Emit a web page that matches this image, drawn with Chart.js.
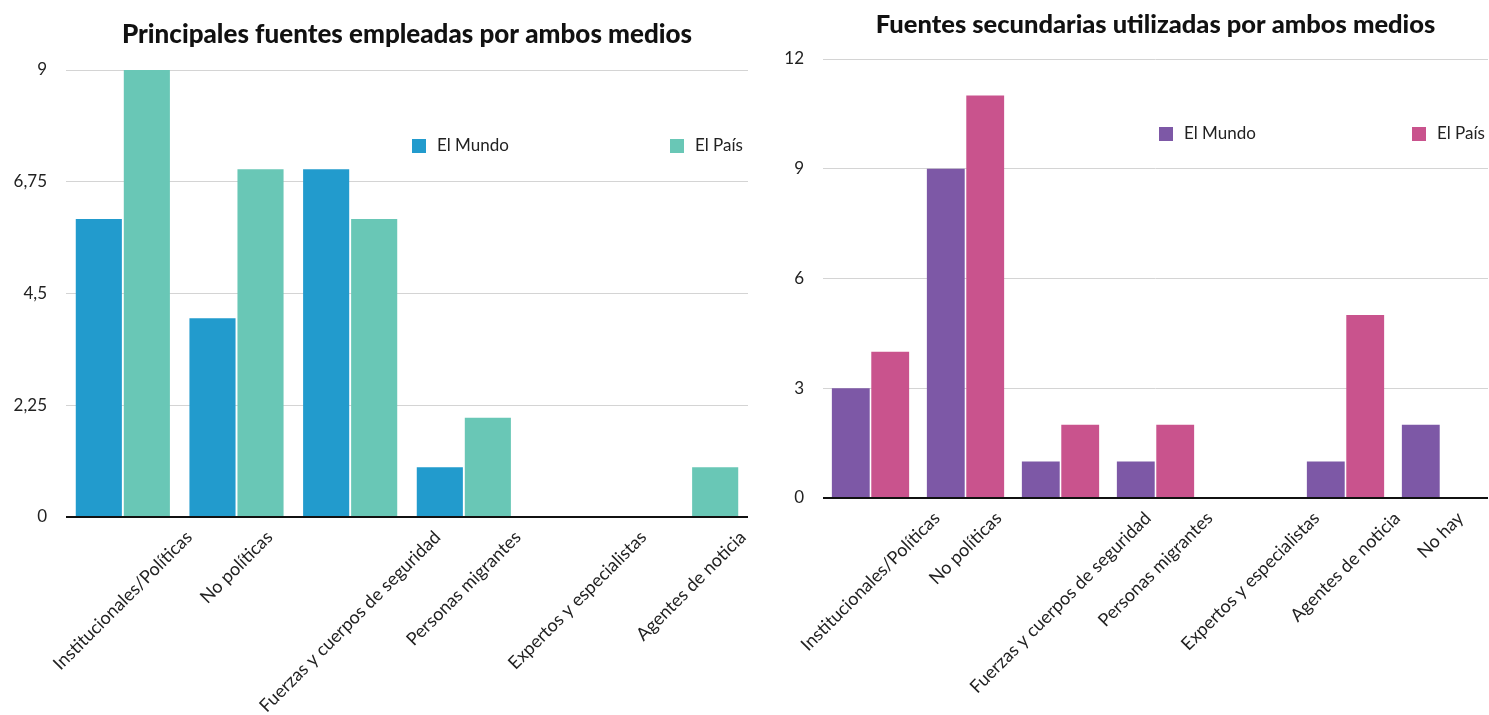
<!DOCTYPE html>
<html>
<head>
<meta charset="utf-8">
<script src="https://cdn.jsdelivr.net/npm/chart.js@4.4.1/dist/chart.umd.min.js"></script>
<style>
  body { margin: 0; background: #fff; }
  .box { position: absolute; top: 0; height: 715px; }
  #left { left: 0; width: 762px; }
  #right { left: 762px; width: 727px; }
</style>
</head>
<body>
<div class="box" id="left"><canvas id="chartLeft"></canvas></div>
<div class="box" id="right"><canvas id="chartRight"></canvas></div>
<script>
const seriesNames = ["El Mundo", "El País"];

const principalCategories = [
  "Institucionales/Políticas",
  "No políticas",
  "Fuerzas y cuerpos de seguridad",
  "Personas migrantes",
  "Expertos y especialistas",
  "Agentes de noticia"
];
const principalMundo = [6, 4, 7, 1, 0, 0];
const principalPais = [9, 7, 6, 2, 0, 1];
const principalTicks = ["0", "2,25", "4,5", "6,75", "9"];

const secundariaCategories = [
  "Institucionales/Políticas",
  "No políticas",
  "Fuerzas y cuerpos de seguridad",
  "Personas migrantes",
  "Expertos y especialistas",
  "Agentes de noticia",
  "No hay"
];
const secundariaMundo = [3, 9, 1, 1, 0, 1, 2];
const secundariaPais = [4, 11, 2, 2, 0, 5, 0];
const secundariaTicks = ["0", "3", "6", "9", "12"];

const FONT = "Lato, 'Open Sans', sans-serif";

// title centred over the plot area, not the whole canvas
const plotTitle = {
  id: "plotTitle",
  afterDraw(chart, args, opts) {
    const { ctx, chartArea } = chart;
    ctx.save();
    ctx.font = "900 " + opts.size + "px " + FONT;
    ctx.fillStyle = "#111";
    ctx.textAlign = "center";
    ctx.textBaseline = "middle";
    ctx.fillText(opts.text, (chartArea.left + chartArea.right) / 2, opts.y);
    ctx.restore();
  }
};

// rotated category labels, centred under each category
const slantLabels = {
  id: "slantLabels",
  afterDraw(chart, args, opts) {
    const { ctx, chartArea } = chart;
    const xScale = chart.scales.x;
    ctx.save();
    ctx.font = "18px " + FONT;
    ctx.fillStyle = "#222";
    ctx.textAlign = "center";
    ctx.textBaseline = "middle";
    chart.data.labels.forEach((label, i) => {
      const w = ctx.measureText(label).width;
      const cx = xScale.getPixelForValue(i);
      const cy = chartArea.bottom + opts.gap + (w + 12) * Math.SQRT1_2 / 2;
      ctx.save();
      ctx.translate(cx, cy);
      ctx.rotate(-Math.PI / 4);
      ctx.fillText(label, 0, 0);
      ctx.restore();
    });
    ctx.restore();
  }
};

// legend drawn inside the plot area
const insideLegend = {
  id: "insideLegend",
  afterDraw(chart, args, opts) {
    const { ctx, chartArea } = chart;
    ctx.save();
    ctx.font = "17px " + FONT;
    ctx.textBaseline = "middle";
    ctx.textAlign = "left";
    chart.data.datasets.forEach((ds, i) => {
      const bx = chartArea.right - opts.offsets[i];
      const y = chartArea.top + opts.y;
      ctx.fillStyle = ds.backgroundColor;
      ctx.fillRect(bx, y - 7, 14, 14);
      ctx.fillStyle = "#222";
      ctx.fillText(ds.label, bx + 25, y);
    });
    ctx.restore();
  }
};

function makeChart(id, opts) {
  return new Chart(document.getElementById(id), {
    type: "bar",
    data: {
      labels: opts.labels,
      datasets: [
        {
          label: seriesNames[0],
          data: opts.mundo,
          backgroundColor: opts.colors[0],
          categoryPercentage: opts.catPct,
          barPercentage: 0.96
        },
        {
          label: seriesNames[1],
          data: opts.pais,
          backgroundColor: opts.colors[1],
          categoryPercentage: opts.catPct,
          barPercentage: 0.96
        }
      ]
    },
    options: {
      responsive: true,
      maintainAspectRatio: false,
      animation: false,
      layout: { padding: opts.padding },
      scales: {
        x: { display: false },
        y: {
          min: 0,
          max: opts.max,
          afterFit: (scale) => { scale.width = opts.axisWidth; },
          ticks: {
            stepSize: opts.step,
            padding: 19,
            color: "#222",
            font: { family: FONT, size: 17 },
            callback: (value, index) => opts.ticks[index]
          },
          border: { display: false },
          grid: {
            drawTicks: false,
            color: (c) => (c.tick && c.tick.value === 0 ? "#111" : "#d4d4d4"),
            lineWidth: (c) => (c.tick && c.tick.value === 0 ? 2 : 1)
          }
        }
      },
      plugins: {
        legend: { display: false },
        tooltip: { enabled: false },
        plotTitle: { text: opts.title, y: opts.titleY, size: opts.titleSize },
        slantLabels: { gap: 13 },
        insideLegend: { offsets: opts.legendOffsets, y: opts.legendY }
      }
    },
    plugins: [plotTitle, slantLabels, insideLegend]
  });
}

makeChart("chartLeft", {
  labels: principalCategories,
  mundo: principalMundo,
  pais: principalPais,
  ticks: principalTicks,
  max: 9,
  step: 2.25,
  colors: ["#229bcd", "#69c7b6"],
  catPct: 0.845,
  title: "Principales fuentes empleadas por ambos medios",
  titleY: 35,
  titleSize: 26,
  axisWidth: 66,
  padding: { top: 70, left: 0, right: 14, bottom: 198 },
  legendOffsets: [336, 78],
  legendY: 76
});

makeChart("chartRight", {
  labels: secundariaCategories,
  mundo: secundariaMundo,
  pais: secundariaPais,
  ticks: secundariaTicks,
  max: 12,
  step: 3,
  colors: ["#7d58a6", "#c9538d"],
  catPct: 0.83,
  title: "Fuentes secundarias utilizadas por ambos medios",
  titleY: 25,
  titleSize: 25.5,
  axisWidth: 61,
  padding: { top: 59, left: 0, right: 1, bottom: 217 },
  legendOffsets: [329, 76],
  legendY: 75
});
</script>
</body>
</html>
